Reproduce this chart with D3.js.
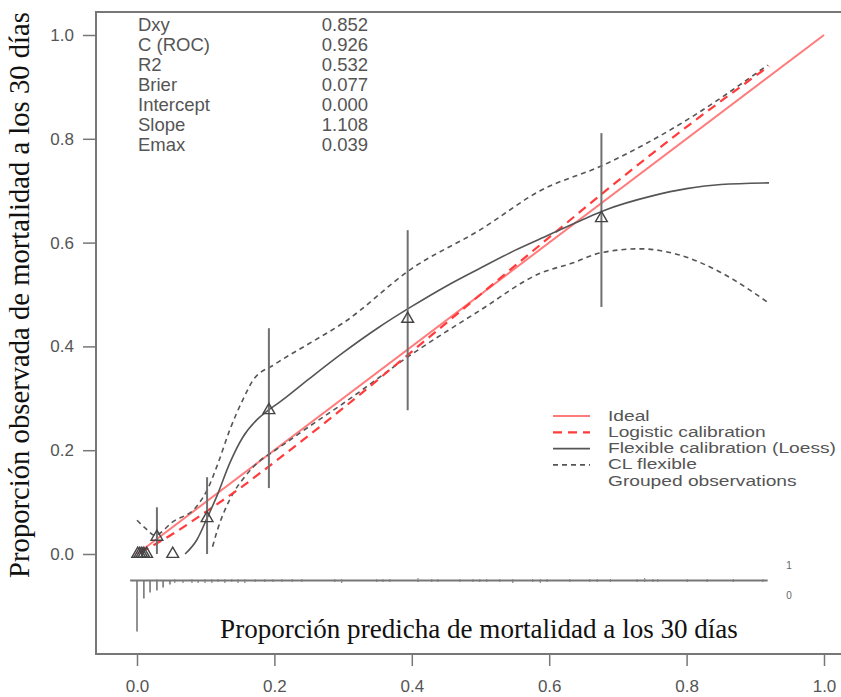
<!DOCTYPE html>
<html>
<head>
<meta charset="utf-8">
<script src="https://cdn.jsdelivr.net/npm/d3@7"></script>
<style>
  html, body { margin: 0; padding: 0; background: #fff; }
  svg { display: block; }
</style>
</head>
<body>
<svg id="chart" width="841" height="697"></svg>
<script>
// ---------- DATA ----------
const xTicks = [0, 0.2, 0.4, 0.6, 0.8, 1.0];
const yTicks = [0, 0.2, 0.4, 0.6, 0.8, 1.0];

const statLabels = ["Dxy", "C (ROC)", "R2", "Brier", "Intercept", "Slope", "Emax"];
const statValues = ["0.852", "0.926", "0.532", "0.077", "0.000", "1.108", "0.039"];

const legendLabels = ["Ideal", "Logistic calibration", "Flexible calibration (Loess)", "CL flexible", "Grouped observations"];

const idealPred = [0, 1];
const idealObs = [0, 1];

const logisticPred = [0.005, 0.05, 0.10, 0.15, 0.20, 0.30, 0.40, 0.50, 0.60, 0.70, 0.80, 0.92];
const logisticObs  = [0.003, 0.037, 0.081, 0.127, 0.177, 0.281, 0.390, 0.500, 0.610, 0.719, 0.823, 0.940];

const loessPred = [0.070, 0.087, 0.102, 0.117, 0.135, 0.154, 0.174, 0.191, 0.210, 0.250, 0.300, 0.350, 0.400, 0.450, 0.500, 0.550, 0.600, 0.650, 0.680, 0.750, 0.800, 0.850, 0.920];
const loessObs  = [0.000, 0.027, 0.069, 0.114, 0.175, 0.225, 0.258, 0.277, 0.295, 0.337, 0.388, 0.435, 0.477, 0.516, 0.551, 0.585, 0.615, 0.645, 0.662, 0.690, 0.704, 0.712, 0.715];

const upperPred = [0.000, 0.012, 0.026, 0.052, 0.087, 0.102, 0.118, 0.135, 0.154, 0.169, 0.200, 0.250, 0.300, 0.400, 0.500, 0.587, 0.680, 0.800, 0.918];
const upperObs  = [0.065, 0.050, 0.036, 0.062, 0.092, 0.123, 0.175, 0.239, 0.297, 0.335, 0.365, 0.405, 0.445, 0.550, 0.625, 0.700, 0.750, 0.836, 0.942];

const lowerPred = [0.110, 0.117, 0.128, 0.140, 0.157, 0.180, 0.198, 0.250, 0.300, 0.400, 0.500, 0.587, 0.635, 0.674, 0.732, 0.790, 0.849, 0.917];
const lowerObs  = [0.014, 0.046, 0.085, 0.117, 0.149, 0.181, 0.197, 0.245, 0.290, 0.385, 0.470, 0.541, 0.561, 0.580, 0.588, 0.576, 0.543, 0.486];

const groupPred = [0.001, 0.004, 0.007, 0.010, 0.014, 0.029, 0.052, 0.102, 0.192, 0.394, 0.676];
const groupObs  = [0, 0, 0, 0, 0, 0.033, 0, 0.069, 0.277, 0.453, 0.647];
const groupLo   = [null, null, null, null, null, 0.000, null, 0.000, 0.127, 0.277, 0.476];
const groupHi   = [null, null, null, null, null, 0.090, null, 0.148, 0.435, 0.624, 0.811];

// rug of predicted risks: non-events (0) drawn downward, events (1) upward
const rugRange = [-0.01, 0.918];
const rugBase = -0.051;
const rugX  = [0.000,0.010,0.019,0.029,0.038,0.048,0.055,0.067,0.080,0.089,0.099,0.109,0.118,0.128,0.138,0.147,0.157,0.172,0.186,0.198,0.211,0.226,0.240,0.288,0.298,0.349,0.358,0.368,0.409,0.429,0.438,0.470,0.489,0.499,0.509,0.528,0.547,0.576,0.587,0.597,0.630,0.659,0.670,0.689,0.728,0.739,0.751,0.758,0.801,0.830,0.868,0.911];
const rugN0 = [50,17,11,9,6,3,2,2,2,2,2,2,1,2,1,2,2,1,1,1,1,1,1,1,2,1,1,1,1,1,1,1,1,1,1,1,2,1,2,1,1,1,1,1,1,1,1,1,1,1,1,1];
const rugN1 = [0,0,0,1,0,0,1,0,1,0,1,1,1,1,1,1,1,1,1,1,1,1,1,1,1,1,1,1,2,1,1,1,1,1,1,1,1,1,1,1,1,1,1,1,1,2,1,1,1,1,1,1];

// ---------- DRAW ----------
const svg = d3.select("#chart");
const x = d3.scaleLinear().domain([0, 1]).range([137, 824]);
const y = d3.scaleLinear().domain([0, 1]).range([554, 35]);
const rugLen = d3.scaleLinear().domain([0, 50]).range([0, 50]);

const SANS = "'Liberation Sans', Arial, sans-serif";
const SERIF = "'Liberation Serif', 'Times New Roman', serif";
const GRAY_TXT = "#555";

// box
const box = { left: 96, top: 12, right: 860, bottom: 654 };
svg.append("rect")
  .attr("x", box.left).attr("y", box.top)
  .attr("width", box.right - box.left).attr("height", box.bottom - box.top)
  .attr("fill", "none").attr("stroke", "#777").attr("stroke-width", 2);

// y axis
const yAxis = d3.axisLeft(y).tickValues(yTicks).tickFormat(d3.format(".1f")).tickSize(13).tickPadding(9);
const gy = svg.append("g").attr("transform", `translate(${box.left},0)`).call(yAxis);
gy.select(".domain").remove();
gy.selectAll(".tick line").attr("stroke", "#777").attr("stroke-width", 1.5);
gy.selectAll(".tick text").attr("font-family", SANS).attr("font-size", 17).attr("fill", GRAY_TXT);

// x axis
const xAxis = d3.axisBottom(x).tickValues(xTicks).tickFormat(d3.format(".1f")).tickSize(12).tickPadding(14);
const gx = svg.append("g").attr("transform", `translate(0,${box.bottom})`).call(xAxis);
gx.select(".domain").remove();
gx.selectAll(".tick line").attr("stroke", "#777").attr("stroke-width", 1.5);
gx.selectAll(".tick text").attr("font-family", SANS).attr("font-size", 17).attr("fill", GRAY_TXT);

// titles (fit to reference extents)
function fitText(sel, base, target) {
  const w = sel.node().getComputedTextLength();
  sel.attr("font-size", base * target / w);
}
const yTitle = svg.append("text")
  .attr("transform", "translate(29,295) rotate(-90)")
  .attr("text-anchor", "middle")
  .attr("font-family", SERIF).attr("font-size", 24).attr("fill", "#111")
  .text("Proporción observada de mortalidad a los 30 días");
fitText(yTitle, 24, 566);

const xTitle = svg.append("text")
  .attr("x", 479).attr("y", 638)
  .attr("text-anchor", "middle")
  .attr("font-family", SERIF).attr("font-size", 24).attr("fill", "#111")
  .text("Proporción predicha de mortalidad a los 30 días");
fitText(xTitle, 24, 518);

// stats block
const stats = svg.append("g");
statLabels.forEach((lab, i) => {
  const yy = 31 + i * 20;
  stats.append("text").attr("x", 138).attr("y", yy)
    .attr("font-family", SANS).attr("font-size", 18.5).attr("fill", GRAY_TXT).text(lab);
  stats.append("text").attr("x", 368).attr("y", yy).attr("text-anchor", "end")
    .attr("font-family", SANS).attr("font-size", 18.5).attr("fill", GRAY_TXT).text(statValues[i]);
});

// line generator
const line = d3.line().x(d => x(d[0])).y(d => y(d[1])).curve(d3.curveMonotoneX);
const zip = (a, b) => a.map((v, i) => [v, b[i]]);

const styles = [
  { stroke: "#ff7b7b", width: 2, dash: null },
  { stroke: "#ff3b3b", width: 2.2, dash: "9,6" },
  { stroke: "#555", width: 1.6, dash: null },
  { stroke: "#555", width: 1.6, dash: "5,4" }
];

// ideal
svg.append("path").attr("d", d3.line().x(d => x(d[0])).y(d => y(d[1]))(zip(idealPred, idealObs)))
  .attr("fill", "none").attr("stroke", styles[0].stroke).attr("stroke-width", styles[0].width);

// CL flexible
[zip(upperPred, upperObs), zip(lowerPred, lowerObs)].forEach(pts => {
  svg.append("path").attr("d", line(pts))
    .attr("fill", "none").attr("stroke", styles[3].stroke).attr("stroke-width", styles[3].width)
    .attr("stroke-dasharray", styles[3].dash);
});

// logistic
svg.append("path").attr("d", line(zip(logisticPred, logisticObs)))
  .attr("fill", "none").attr("stroke", styles[1].stroke).attr("stroke-width", styles[1].width)
  .attr("stroke-dasharray", styles[1].dash);

// loess
svg.append("path").attr("d", line(zip(loessPred, loessObs)))
  .attr("fill", "none").attr("stroke", styles[2].stroke).attr("stroke-width", styles[2].width);

// grouped observations: error bars
groupPred.forEach((p, i) => {
  if (groupLo[i] === null) return;
  svg.append("line")
    .attr("x1", x(p)).attr("x2", x(p))
    .attr("y1", y(groupLo[i])).attr("y2", y(groupHi[i]))
    .attr("stroke", "#707070").attr("stroke-width", 2);
});
// triangles
const tri = d3.symbol().type(d3.symbolTriangle).size(60);
groupPred.forEach((p, i) => {
  svg.append("path").attr("d", tri())
    .attr("transform", `translate(${x(p)},${y(groupObs[i])})`)
    .attr("fill", "none").attr("stroke", "#444").attr("stroke-width", 1.4);
});

// rug
svg.append("line")
  .attr("x1", x(rugRange[0])).attr("x2", x(rugRange[1]))
  .attr("y1", y(rugBase)).attr("y2", y(rugBase))
  .attr("stroke", "#777").attr("stroke-width", 2);
rugX.forEach((p, i) => {
  if (rugN0[i] > 0) {
    svg.append("line").attr("x1", x(p)).attr("x2", x(p))
      .attr("y1", y(rugBase)).attr("y2", y(rugBase) + rugLen(rugN0[i]) + (rugN0[i] > 2 ? 1 : 0.5))
      .attr("stroke", "#777").attr("stroke-width", rugN0[i] > 2 ? 1.6 : 1.1);
  }
  if (rugN1[i] > 0) {
    svg.append("line").attr("x1", x(p)).attr("x2", x(p))
      .attr("y1", y(rugBase)).attr("y2", y(rugBase) - rugLen(rugN1[i]) - 0.5)
      .attr("stroke", "#888").attr("stroke-width", 1.1);
  }
});
svg.append("text").attr("x", x(0.949)).attr("y", y(rugBase) - 15)
  .attr("text-anchor", "middle").attr("dominant-baseline", "central")
  .attr("font-family", SANS).attr("font-size", 10).attr("fill", "#666").text("1");
svg.append("text").attr("x", x(0.949)).attr("y", y(rugBase) + 15)
  .attr("text-anchor", "middle").attr("dominant-baseline", "central")
  .attr("font-family", SANS).attr("font-size", 10).attr("fill", "#666").text("0");

// legend
const lg = svg.append("g");
legendLabels.forEach((lab, i) => {
  const yy = 416 + i * 16.3;
  if (i < 4) {
    lg.append("line").attr("x1", 553).attr("x2", 590).attr("y1", yy).attr("y2", yy)
      .attr("stroke", styles[i].stroke).attr("stroke-width", styles[i].width)
      .attr("stroke-dasharray", styles[i].dash);
  }
  lg.append("text")
    .attr("transform", `translate(608,${yy}) scale(1.37,1)`)
    .attr("dominant-baseline", "central")
    .attr("font-family", SANS).attr("font-size", 14).attr("fill", GRAY_TXT).text(lab);
});
</script>
</body>
</html>
